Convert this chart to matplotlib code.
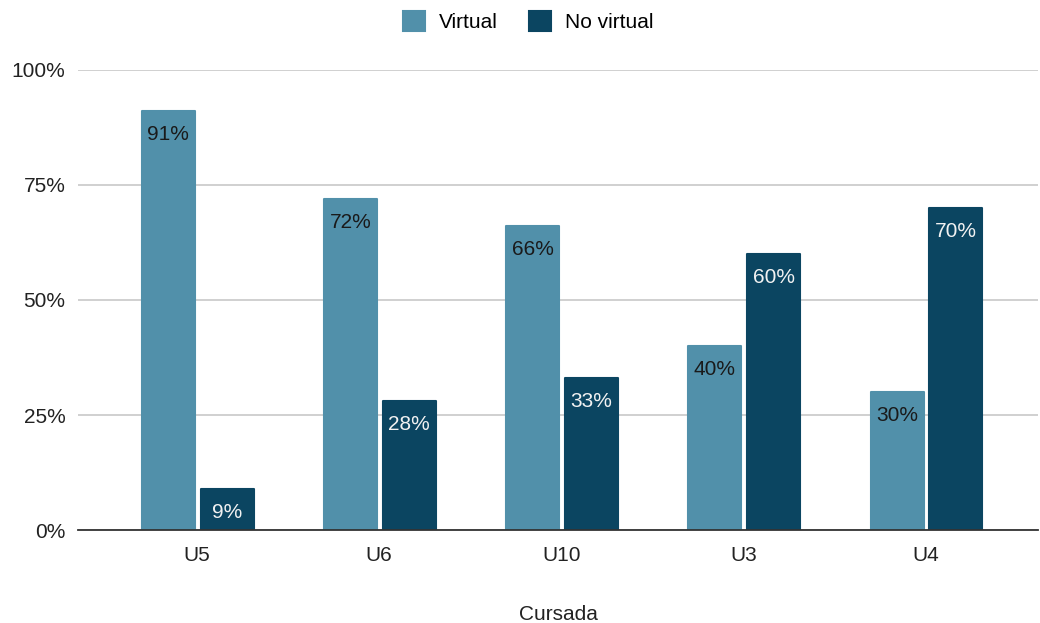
import matplotlib.pyplot as plt
import numpy as np

plt.rcParams['font.family'] = ['Liberation Sans', 'DejaVu Sans']

cursadas = ["U5", "U6", "U10", "U3", "U4"]
virtual = [91, 72, 66, 40, 30]
no_virtual = [9, 28, 33, 60, 70]

c_virtual = "#5190aa"
c_no_virtual = "#0b4561"

fig = plt.figure(figsize=(10.4, 6.23), dpi=100)
ax = fig.add_axes([0.075, 0.149, 0.923, 0.739])

x = np.arange(len(cursadas))
w = 0.291
b1 = ax.bar(x - 0.158, virtual, w, color=c_virtual, edgecolor=c_virtual,
            linewidth=1.5, joinstyle="round", label="Virtual", zorder=3)
b2 = ax.bar(x + 0.165, no_virtual, w, color=c_no_virtual, edgecolor=c_no_virtual,
            linewidth=1.5, joinstyle="round", label="No virtual", zorder=3)

# value labels just under the top of each bar
for bars, vals, tc in [(b1, virtual, "#1a1a1a"), (b2, no_virtual, "#f2f2f2")]:
    for rect, v in zip(bars, vals):
        ax.annotate(f"{v}%", (rect.get_x() + rect.get_width() / 2, v),
                    xytext=(0, -17), textcoords="offset points",
                    ha="center", va="center", fontsize=15, color=tc, zorder=4)

ax.set_ylim(0, 100)
ax.set_xlim(-0.653, 4.615)
ax.set_yticks([0, 25, 50, 75, 100])
ax.set_yticklabels(["0%", "25%", "50%", "75%", "100%"])
ax.set_xticks(x)
ax.set_xticklabels(cursadas)
ax.tick_params(axis="both", length=0, labelsize=15, colors="#222222")
ax.tick_params(axis="y", pad=9)
ax.tick_params(axis="x", pad=11.5)
ax.yaxis.grid(True, color="#c8c8c8", linewidth=1.2, zorder=0)
ax.set_axisbelow(True)
for s in ["top", "right", "left"]:
    ax.spines[s].set_visible(False)
ax.spines["bottom"].set_color("#333333")
ax.spines["bottom"].set_linewidth(1.3)
ax.spines["bottom"].set_zorder(5)

ax.set_xlabel("Cursada", fontsize=15, color="#222222", labelpad=29)

fig.legend(handles=[b1, b2], loc="upper center", bbox_to_anchor=(0.508, 1.012),
           ncol=2, frameon=False, fontsize=15, handlelength=1.05, handleheight=1.05,
           columnspacing=1.5, handletextpad=0.67)

fig.savefig("out.png", dpi=100)
